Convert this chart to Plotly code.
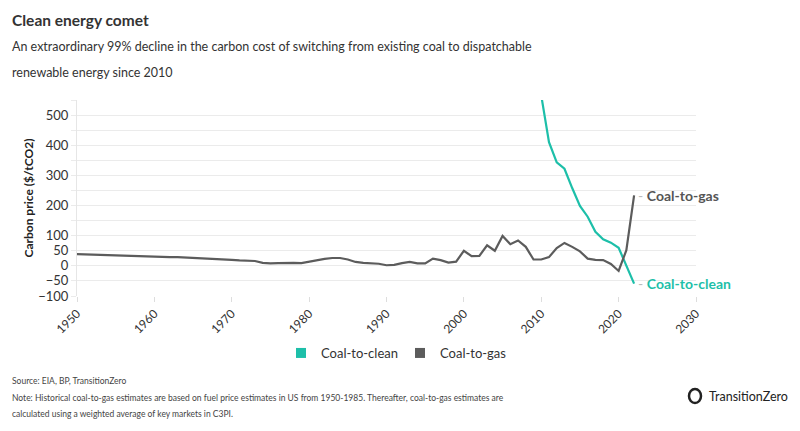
import plotly.graph_objects as go

gas_years = list(range(1950, 2023))
gas_values = [39, 38, 37, 36, 35, 34, 34, 33, 32, 31,
              30, 30, 29, 29, 28, 27, 26, 25, 23, 22,
              20, 18, 17, 16, 10, 8, 9, 10, 10, 9,
              14, 18, 23, 26, 26, 21, 13, 10, 9, 7,
              2, 3, 9, 13, 8, 8, 24, 19, 11, 14,
              50, 32, 33, 68, 50, 99, 72, 84, 63, 21,
              21, 29, 59, 76, 63, 48, 24, 20, 19, 6,
              -17, 52, 234]

clean_years = list(range(2010, 2023))
clean_values = [565, 410, 343, 322, 258, 199, 163, 113, 88, 77, 60, 0, -59]

ytick_vals = [-100, -50, 0, 50, 100, 200, 300, 400, 500]
ytick_minor = [150, 250, 350, 450, 550]
xtick_vals = [1950, 1960, 1970, 1980, 1990, 2000, 2010, 2020, 2030]

TEAL = "#1dbfa9"
GRAY = "#5c5c5c"
FONT = "Lato, sans-serif"

W, H = 800, 431
L, R, T, B = 77, 696, 100, 296


def px_x(px):
    return (px - L) / (R - L)


def px_y(py):
    return (B - py) / (B - T)


fig = go.Figure()
fig.add_trace(go.Scatter(x=clean_years, y=clean_values, mode="lines",
                         line=dict(color=TEAL, width=2.2), showlegend=False))
fig.add_trace(go.Scatter(x=gas_years, y=gas_values, mode="lines",
                         line=dict(color=GRAY, width=2.2), showlegend=False))
fig.add_trace(go.Scatter(x=[None], y=[None], mode="markers", name="Coal-to-clean",
                         marker=dict(symbol="square", size=10, color=TEAL)))
fig.add_trace(go.Scatter(x=[None], y=[None], mode="markers", name="Coal-to-gas",
                         marker=dict(symbol="square", size=10, color=GRAY)))

fig.add_annotation(x=gas_years[-1], y=gas_values[-1], xref="x", yref="y",
                   text="<span style='color:#bbbbbb'>-</span> <b>Coal-to-gas</b>",
                   showarrow=False, xanchor="left", xshift=2,
                   font=dict(family=FONT, size=14, color="#555555"))
fig.add_annotation(x=clean_years[-1], y=clean_values[-1], xref="x", yref="y",
                   text="<span style='color:#bbbbbb'>-</span> <b>Coal-to-clean</b>",
                   showarrow=False, xanchor="left", xshift=2,
                   font=dict(family=FONT, size=14, color=TEAL))

fig.update_layout(
    width=W, height=H,
    margin=dict(l=L, r=W - R, t=T, b=H - B, autoexpand=False),
    paper_bgcolor="white", plot_bgcolor="white",
    font=dict(family=FONT, size=12, color="#333333"),
    xaxis=dict(range=[1950, 2030], tickvals=xtick_vals, tickangle=-45,
               showgrid=False, zeroline=False, showline=False, automargin=False,
               ticks="outside", ticklen=5, tickcolor="#dddddd",
               tickfont=dict(size=12, color="#333333")),
    yaxis=dict(range=[-100, 550], tickvals=ytick_vals, showgrid=True,
               gridcolor="#ebebeb", gridwidth=1.2, zeroline=False, automargin=False,
               showline=True, linecolor="#e6e6e6",
               ticks="outside", ticklen=5, tickcolor="#ebebeb",
               minor=dict(tickvals=ytick_minor, showgrid=True, gridcolor="#ebebeb",
                          ticks="outside", ticklen=5, tickcolor="#ebebeb"),
               tickfont=dict(size=13, color="#333333"),
               title=dict(text="<b>Carbon price ($/tCO2)</b>", standoff=2,
                          font=dict(size=12, color="#222222"))),
    legend=dict(orientation="h", xref="container", yref="container",
                x=0.5, xanchor="center", y=(H - 353) / H, yanchor="middle",
                font=dict(size=13, color="#333333"),
                entrywidth=74, entrywidthmode="pixels", itemwidth=30,
                tracegroupgap=0),
)

anns = [
    dict(x=10, y=20, text="<b>Clean energy comet</b>", size=15.5, color="#333333"),
    dict(x=10, y=47, text="An extraordinary 99% decline in the carbon cost of switching from existing coal to dispatchable", size=12.5, color="#333333"),
    dict(x=10, y=72, text="renewable energy since 2010", size=12.5, color="#333333"),
    dict(x=10, y=381, text="Source: EIA, BP, TransitionZero", size=8.5, color="#444444"),
    dict(x=10, y=398, text="Note: Historical coal-to-gas estimates are based on fuel price estimates in US from 1950-1985. Thereafter, coal-to-gas estimates are", size=8.5, color="#444444"),
    dict(x=10, y=414, text="calculated using a weighted average of key markets in C3PI.", size=8.5, color="#444444"),
    dict(x=707, y=396, text="TransitionZero", size=12.5, color="#222222"),
]
for a in anns:
    fig.add_annotation(x=px_x(a["x"]), y=px_y(a["y"]), xref="paper", yref="paper",
                       text=a["text"], showarrow=False, xanchor="left", yanchor="middle",
                       font=dict(family=FONT, size=a["size"], color=a["color"]))

fig.add_shape(type="circle", xref="paper", yref="paper",
              x0=px_x(689), x1=px_x(701), y0=px_y(403), y1=px_y(389),
              line=dict(color="#222222", width=2.5))

fig.write_html("out.html", config={"displayModeBar": False},
               post_script="document.body.style.margin='0';")
